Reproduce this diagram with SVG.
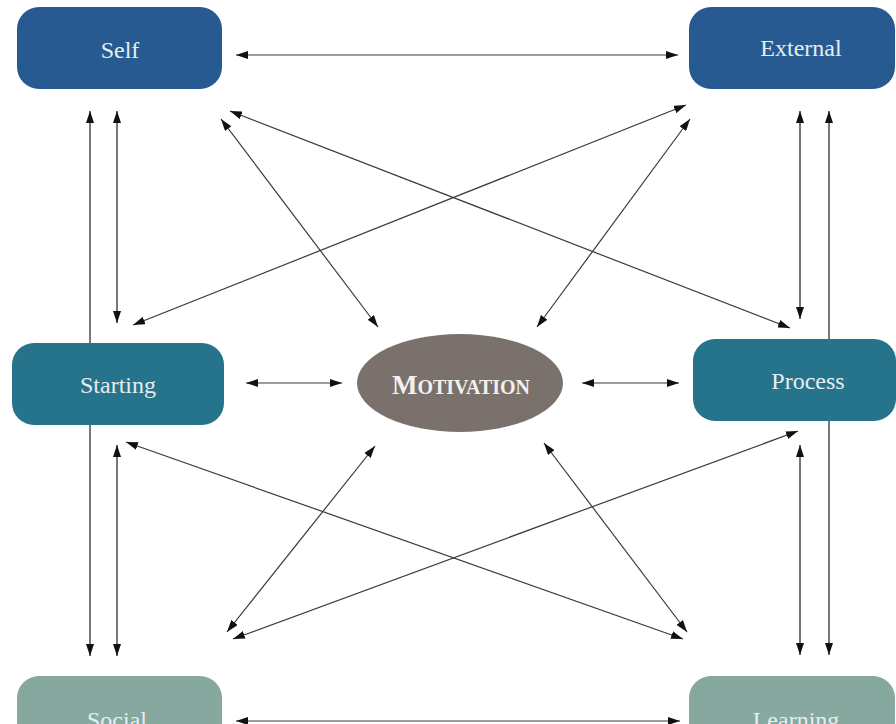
<svg xmlns="http://www.w3.org/2000/svg" width="896" height="724" viewBox="0 0 896 724">
<defs>
<marker id="ah" viewBox="0 0 12 8" refX="12" refY="4" markerWidth="12" markerHeight="8" markerUnits="userSpaceOnUse" orient="auto-start-reverse">
<path d="M0,0 L12,4 L0,8 z" fill="#111"/>
</marker>
<style>
.c{stroke:#3a3a3a;stroke-width:1.2;fill:none;marker-start:url(#ah);marker-end:url(#ah)}
.v{stroke:#555;stroke-width:1.6}
.t{font-family:"Liberation Serif","Times New Roman",serif;font-size:24px;fill:#e6edf1;text-anchor:middle}
.b1{fill:#275a91}
.b2{fill:#26748b}
.b3{fill:#87a89e}
</style>
</defs>
<rect width="896" height="724" fill="#ffffff"/>
<g id="connectors">
<line class="c" x1="236" y1="55" x2="678" y2="55"/>
<line class="c" x1="236" y1="721" x2="680" y2="721"/>
<line class="c" x1="246" y1="383" x2="342" y2="383"/>
<line class="c" x1="582" y1="383" x2="679" y2="383"/>
<line class="c v" x1="90" y1="111" x2="90" y2="656"/>
<line class="c v" x1="117" y1="111" x2="117" y2="323"/>
<line class="c v" x1="117" y1="445" x2="117" y2="656"/>
<line class="c v" x1="800" y1="111" x2="800" y2="319"/>
<line class="c v" x1="800" y1="445" x2="800" y2="655"/>
<line class="c v" x1="829" y1="111" x2="829" y2="655"/>
<line class="c" x1="230" y1="111" x2="790" y2="328"/>
<line class="c" x1="221" y1="119" x2="378" y2="327"/>
<line class="c" x1="686" y1="105" x2="133" y2="325"/>
<line class="c" x1="690" y1="119" x2="537" y2="327"/>
<line class="c" x1="126" y1="442" x2="683" y2="639"/>
<line class="c" x1="375" y1="446" x2="227" y2="632"/>
<line class="c" x1="544" y1="443" x2="687" y2="632"/>
<line class="c" x1="798" y1="431" x2="233" y2="639"/>
</g>
<g id="self">
<rect class="b1" x="17" y="7" width="205" height="82" rx="22"/>
<text class="t" x="120" y="58">Self</text>
</g>
<g id="external">
<rect class="b1" x="689" y="7" width="206" height="82" rx="22"/>
<text class="t" x="801" y="56">External</text>
</g>
<g id="starting">
<rect class="b2" x="12" y="343" width="212" height="82" rx="22"/>
<text class="t" x="118" y="393">Starting</text>
</g>
<g id="motivation">
<ellipse cx="460" cy="383" rx="103" ry="49" fill="#7b716c"/>
<text x="461" y="394" font-family="'Liberation Serif','Times New Roman',serif" font-weight="bold" fill="#f2f0ee" text-anchor="middle"><tspan font-size="27">M</tspan><tspan font-size="20">OTIVATION</tspan></text>
</g>
<g id="process">
<rect class="b2" x="693" y="339" width="203" height="82" rx="22"/>
<text class="t" x="808" y="389">Process</text>
</g>
<g id="social">
<rect class="b3" x="17" y="676" width="205" height="82" rx="22"/>
<text class="t" x="117" y="728">Social</text>
</g>
<g id="learning">
<rect class="b3" x="689" y="676" width="206" height="82" rx="22"/>
<text class="t" x="796" y="728">Learning</text>
</g>
</svg>
